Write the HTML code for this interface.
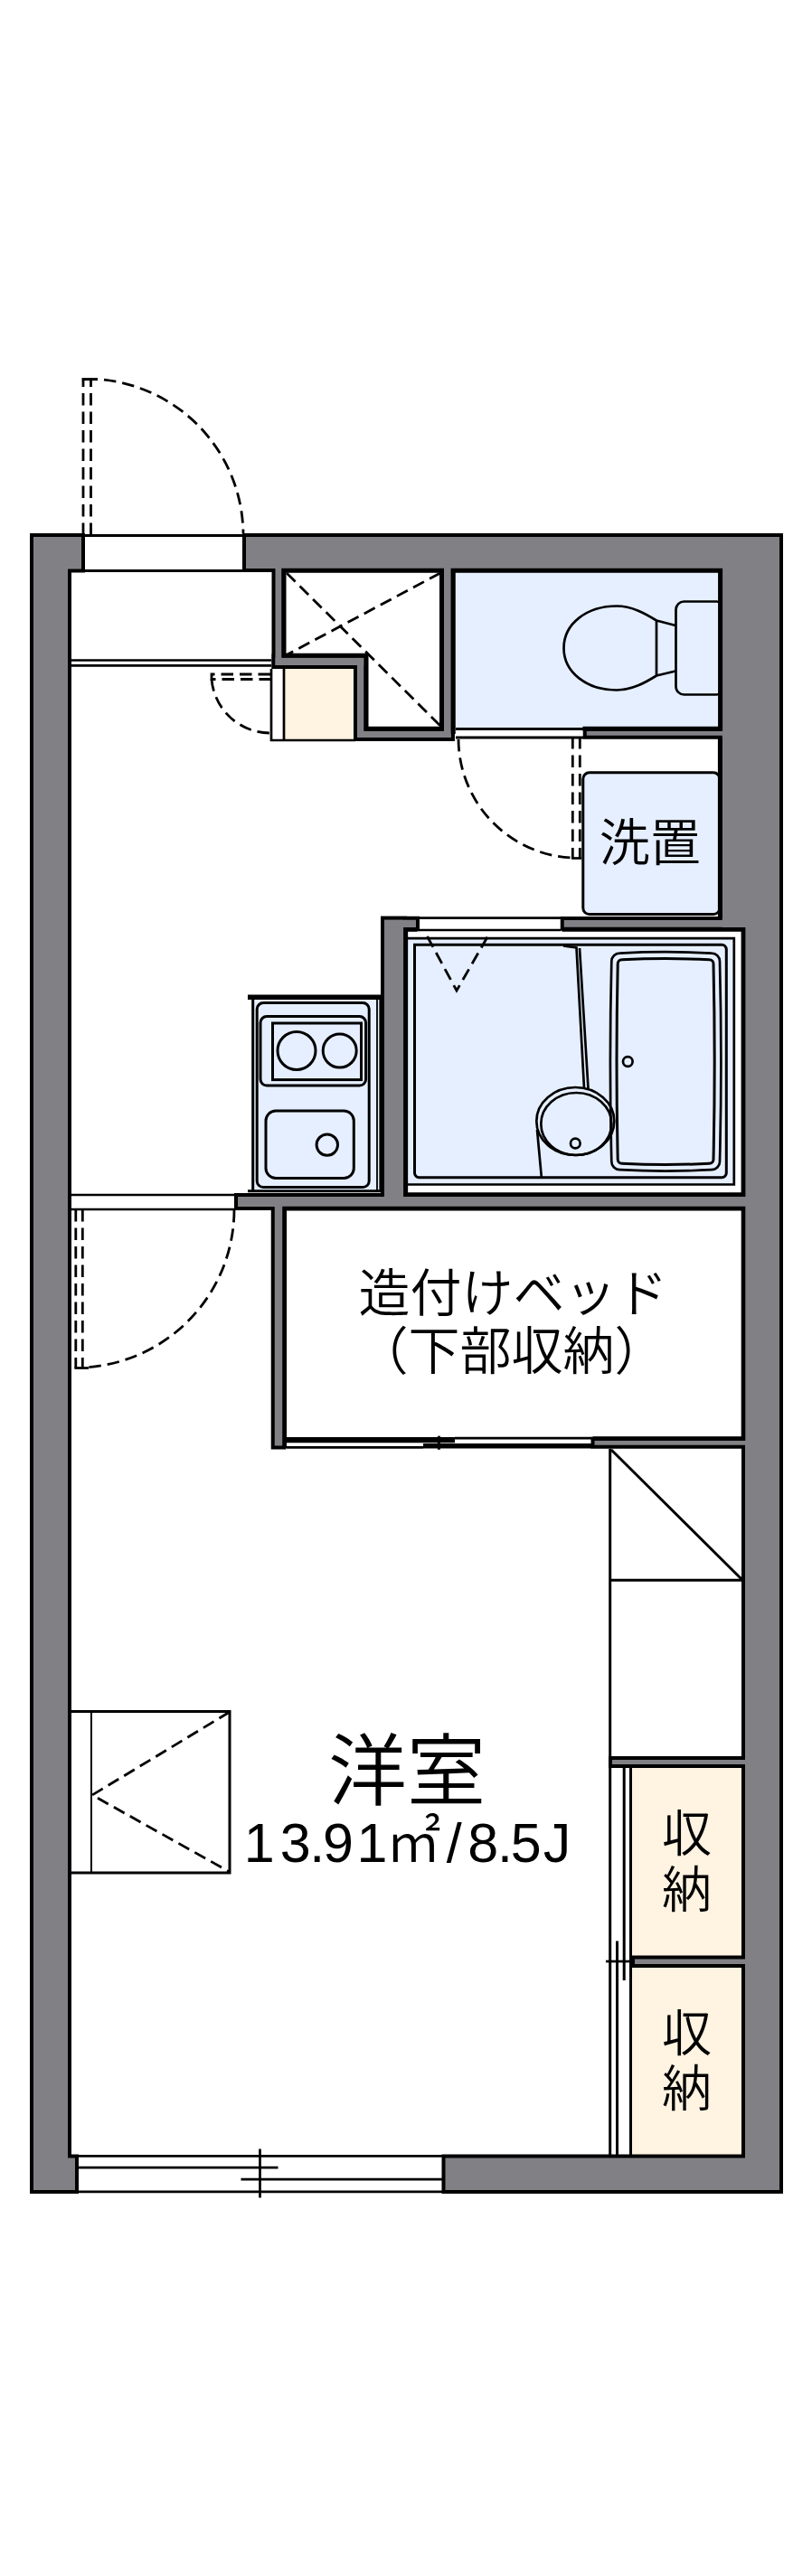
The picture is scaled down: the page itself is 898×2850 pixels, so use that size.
<!DOCTYPE html>
<html lang="ja">
<head>
<meta charset="utf-8">
<title>間取り図</title>
<style>
html,body{margin:0;padding:0;background:#fff;}
body{width:898px;height:2850px;overflow:hidden;}
svg{display:block;}
text{font-family:"Liberation Sans","Noto Sans CJK JP",sans-serif;font-weight:350;fill:#000;}
.ln{stroke:#000;stroke-width:3;fill:none;}
.th{stroke:#000;stroke-width:2.7;fill:none;}
.ds{stroke:#000;stroke-width:2.8;fill:none;stroke-dasharray:13.5 7;}
.bl{fill:#e6efff;}
.cr{fill:#fff3e1;}
</style>
</head>
<body>
<svg width="898" height="2850" viewBox="0 0 898 2850">
<defs>
<g id="walls">
<rect x="37" y="594" width="38" height="1829"/>
<rect x="37" y="594" width="53" height="35.5"/>
<rect x="37" y="2387.5" width="46" height="35.5"/>
<rect x="272" y="594" width="590" height="35"/>
<rect x="798.75" y="594" width="63.25" height="432"/>
<rect x="824" y="1018" width="38" height="1405"/>
<rect x="492.5" y="2387.5" width="369.5" height="35.5"/>
<rect x="304.5" y="629" width="7" height="107"/>
<rect x="304.5" y="727.5" width="98" height="8.5"/>
<rect x="395" y="727.5" width="7.5" height="88.5"/>
<rect x="395" y="808.75" width="103.75" height="7.25"/>
<rect x="490.75" y="629" width="8" height="187"/>
<rect x="648.75" y="808.75" width="151.25" height="5"/>
<rect x="425" y="1017.75" width="21.25" height="317.25"/>
<rect x="425" y="1017.75" width="35" height="8.5"/>
<rect x="623.75" y="1018" width="200.25" height="7.75"/>
<rect x="263" y="1324" width="561" height="11"/>
<rect x="303.75" y="1335" width="8.75" height="264.5"/>
<rect x="657.5" y="1593.75" width="166.5" height="5"/>
<rect x="677" y="1947" width="147" height="5"/>
<rect x="702" y="2167.5" width="122" height="5.5"/>
</g>
</defs>
<rect x="0" y="0" width="898" height="2850" fill="#fff"/>
<rect x="500" y="631" width="297" height="175" class="bl"/>
<rect x="314" y="740" width="79" height="79" class="cr"/>
<rect x="697.5" y="1954" width="124.5" height="212" class="cr"/>
<rect x="697.5" y="2175" width="124.5" height="211" class="cr"/>
<rect class="th bl" x="747.5" y="665.5" width="54" height="103" rx="9"/>
<rect class="ln bl" x="644.8" y="854.8" width="151.2" height="156.7" rx="7"/>
<!-- WALLDRAW -->
<use href="#walls" stroke="#000" stroke-width="8" fill="#000" stroke-linejoin="miter"/>
<use href="#walls" fill="#818185"/>
<path class="ln" d="M92 592.5H270M92 631.5H270"/>
<path class="ds" d="M92 592V421M100.5 592V421"/>
<path class="ln" d="M90.5 419.6H108"/>
<path class="ds" d="M115 420.2A173 173 0 0 1 269 590"/>
<path class="th" d="M79 730.5H300M79 736.3H300"/>
<path class="th" d="M300 740V819H393M314 740V819"/>
<path class="ds" d="M299 746H234V751.5H299"/>
<path class="ds" d="M234 751.5A65 65 0 0 0 298 811"/>
<path class="ds" d="M317 634L487 803M487 634L318 724"/>
<path d="M314 631.25H488.5V806.25H405V725.25H314Z" stroke="#000" stroke-width="5" fill="none"/>
<path class="ln" d="M504 806.5H645M504 816H645"/>
<path class="ds" d="M633.3 815V949.5M641.3 815V949.5"/>
<path class="th" d="M632 949.5H643"/>
<path class="ds" d="M507 818A132 132 0 0 0 631 949"/>
<path class="th" d="M726 686.5C714 679 699 670.5 682 670.5C649 670.5 623.5 690 623.5 717C623.5 744 649 763.5 682 763.5C699 763.5 714 755 726 747.5M726 686.5V747.5M726 686.5L747 692M726 747.5L747 742.5"/>
<path d="M644.5 806.25H796.6V631.25H501.25V812" stroke="#000" stroke-width="5" fill="none"/>
<path d="M796.4 816V1016" stroke="#000" stroke-width="5" fill="none"/>
<rect class="bl" x="451" y="1038" width="361" height="272.5"/>
<path class="th" d="M451 1038.2H811.8V1310.5H451"/>
<path class="ln" d="M458.5 1045.3H798.3a5 5 0 0 1 5 5V1297.7a5 5 0 0 1 -5 5H463.5a5 5 0 0 1 -5 -5Z"/>
<path d="M461.5 1028.4H448.75V1321.6H822V1028.4H621.5" stroke="#000" stroke-width="4.8" fill="none"/>
<path class="th" d="M463 1015.7H620M463 1029H620"/>
<path class="ds" d="M472.5 1036L505 1096L540 1035"/>
<path class="th" d="M685.3 1054.6Q736.15 1051.8 787 1054.6A9 9 0 0 1 796 1063.6Q798.8 1174.4 796 1285.2A9 9 0 0 1 787 1294.2Q736.15 1297 685.3 1294.2A9 9 0 0 1 676.3 1285.2Q673.5 1174.4 676.3 1063.6A9 9 0 0 1 685.3 1054.6Z"/>
<path class="ln" d="M687.7 1061.8Q736.1 1059.4 784.5 1061.8A4.5 4.5 0 0 1 789 1066.3Q791.4 1174.55 789 1282.8A4.5 4.5 0 0 1 784.5 1287.3Q736.1 1289.7 687.7 1287.3A4.5 4.5 0 0 1 683.2 1282.8Q680.8 1174.55 683.2 1066.3A4.5 4.5 0 0 1 687.7 1061.8Z"/>
<circle class="th" cx="694.3" cy="1174.5" r="5.3"/>
<path class="th" d="M623 1046.5L637.5 1048.5L646 1204M641 1049L650.5 1204"/>
<ellipse class="th" cx="636.3" cy="1240.5" rx="43" ry="37.5"/>
<ellipse class="th" cx="637.3" cy="1243.5" rx="39" ry="34.5"/>
<circle class="th" cx="636.3" cy="1265" r="5.3"/>
<path class="th" d="M594 1250L598.8 1302"/>
<rect class="bl" x="280" y="1104" width="140" height="214"/>
<path d="M274 1103.3H421" stroke="#000" stroke-width="5.5" fill="none"/>
<path class="ln" d="M279.7 1104V1318M274 1317.7H421"/>
<path d="M417 1104V1318M420.3 1104V1318" stroke="#000" stroke-width="1.8" fill="none"/>
<rect class="ln" x="284.2" y="1109.6" width="124" height="204" rx="7"/>
<rect class="ln" x="288" y="1124.6" width="116.6" height="76.4" rx="7"/>
<rect class="ln" x="301.5" y="1132" width="98" height="62.6"/>
<circle class="ln" cx="328" cy="1162.5" r="21"/>
<circle class="ln" cx="375.7" cy="1162.5" r="18.5"/>
<rect class="ln" x="294" y="1229" width="97.3" height="74.5" rx="11"/>
<circle class="ln" cx="361.8" cy="1266.6" r="11.7"/>
<path class="th" d="M79 1322H260M79 1338H260"/>
<path class="ds" d="M83.8 1338V1513.5M91.3 1338V1513.5"/>
<path class="th" d="M82.4 1513.5H98"/>
<path class="ds" d="M259 1339A175 175 0 0 1 91 1513"/>
<path d="M314.75 1602V1337.1H822V1591.5H655.5" stroke="#000" stroke-width="4.6" fill="none"/>
<path d="M317 1593.1H503" stroke="#000" stroke-width="6.2" fill="none"/>
<path class="th" d="M503 1591.2H654M317 1601.3H468"/>
<path d="M468 1599.8H654" stroke="#000" stroke-width="5.6" fill="none"/>
<path class="ln" d="M485.4 1588.7V1603.8"/>
<path class="ln" d="M674.7 1603V2386M674.7 1748.3H822M676 1604L821 1748"/>
<path class="ln" d="M690.2 1956V2191M697.5 1956V2386M682.5 2147.5V2386"/>
<path class="th" d="M670 2170H698"/>
<path class="ln" d="M79 1893.5H254V2072H79"/>
<path d="M101 1893.5V2072" stroke="#000" stroke-width="2" fill="none"/>
<path class="ds" d="M254 1894L102 1986L254 2071"/>
<path class="th" d="M87 2385.4H490M87 2398.2H307.5M266.5 2411.2H490M87 2424.8H490"/>
<path class="th" d="M287.5 2377.5V2431.5"/>
<text x="718.8" y="951.5" font-size="56" text-anchor="middle">洗置</text>
<text x="567.5" y="1450.5" font-size="57" text-anchor="middle">造付けベッド</text>
<text x="565.5" y="1514.5" font-size="57" text-anchor="middle">（下部収納）</text>
<text x="450" y="1991" font-size="87" text-anchor="middle">洋室</text>
<text x="455.6" y="2059.5" font-size="61" letter-spacing="1.2" text-anchor="middle" dx="-4.5 4.75 -2.75 -3.25 2.25 -2.75 4.75 5.25 -2.25 -3.5 0.75">13.91㎡/8.5J</text>
<text x="759.5" y="2048" font-size="55" text-anchor="middle">収</text>
<text x="759.5" y="2109.5" font-size="55" text-anchor="middle">納</text>
<text x="759.5" y="2268.5" font-size="55" text-anchor="middle">収</text>
<text x="759.5" y="2330" font-size="55" text-anchor="middle">納</text>
</svg>
</body>
</html>
